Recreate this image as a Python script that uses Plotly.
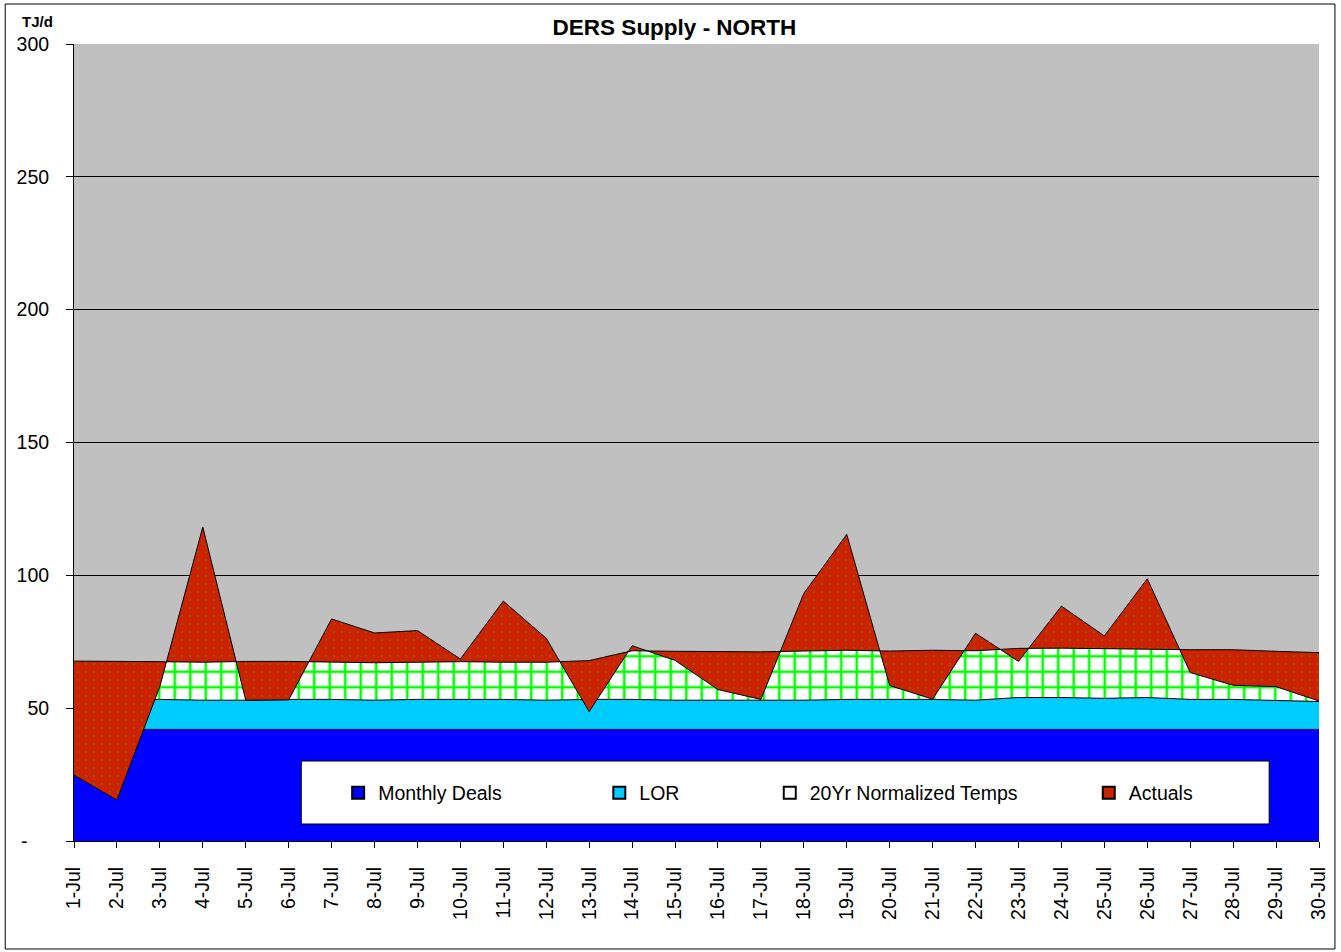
import numpy as np
import plotly.graph_objects as go

days = ["1-Jul", "2-Jul", "3-Jul", "4-Jul", "5-Jul", "6-Jul", "7-Jul", "8-Jul", "9-Jul", "10-Jul",
        "11-Jul", "12-Jul", "13-Jul", "14-Jul", "15-Jul", "16-Jul", "17-Jul", "18-Jul", "19-Jul", "20-Jul",
        "21-Jul", "22-Jul", "23-Jul", "24-Jul", "25-Jul", "26-Jul", "27-Jul", "28-Jul", "29-Jul", "30-Jul"]

monthly_deals = [42, 42, 42, 42, 42, 42, 42, 42, 42, 42, 42, 42, 42, 42, 42,
                 42, 42, 42, 42, 42, 42, 42, 42, 42, 42, 42, 42, 42, 42, 42]
lor = [11.0, 11.0, 11.3, 11.0, 11.0, 11.3, 11.3, 11.0, 11.3, 11.3, 11.3, 11.0, 11.3, 11.3, 11.0,
       11.0, 11.0, 11.0, 11.3, 11.3, 11.3, 11.0, 12.0, 12.0, 11.7, 12.0, 11.3, 11.3, 11.0, 10.5]
normalized_temps = [14.7, 14.7, 14.2, 14.3, 14.6, 14.3, 14.0, 14.1, 14.0, 14.2, 14.0, 14.3, 14.6, 18.3, 18.4,
                    18.2, 18.2, 18.5, 18.5, 18.2, 18.5, 18.6, 18.5, 18.6, 18.6, 18.2, 18.7, 18.7, 18.4, 18.4]
actuals = [24.8, 15.4, 58.2, 118.2, 53.0, 53.1, 83.6, 78.3, 79.2, 68.5, 90.3, 76.3, 48.7, 73.5, 68.0,
           57.0, 53.3, 93.2, 115.4, 58.5, 53.4, 78.2, 67.6, 88.4, 77.2, 98.7, 63.4, 58.6, 58.1, 52.7]

y_ticks = [0, 50, 100, 150, 200, 250, 300]
y_ticktext = ["-\u00a0\u00a0\u00a0\u00a0", "50", "100", "150", "200", "250", "300"]

BLUE = "#0000FF"
CYAN = "#00CCFF"
GREEN = "#00FF00"
RED = "#CC2200"
FONT = "Liberation Sans, Arial, sans-serif"

md = np.array(monthly_deals, dtype=float)
lor_top = md + np.array(lor)
norm_top = lor_top + np.array(normalized_temps)

fig = go.Figure()
fig.add_trace(go.Scatter(x=days, y=md, mode="lines", fill="tozeroy", fillcolor=BLUE,
                         line=dict(color="#000033", width=1), showlegend=False, hoverinfo="skip"))
fig.add_trace(go.Scatter(x=days, y=lor_top, mode="lines", fill="tonexty", fillcolor=CYAN,
                         line=dict(color="#000000", width=1), showlegend=False, hoverinfo="skip"))
fig.add_trace(go.Scatter(x=days, y=norm_top, mode="lines", fill="tonexty", fillcolor="white",
                         fillpattern=dict(shape="+", fgcolor=GREEN, bgcolor="white", size=15.5,
                                          solidity=0.3, fgopacity=1, fillmode="replace"),
                         line=dict(color="#000000", width=1), showlegend=False, hoverinfo="skip"))
fig.add_trace(go.Scatter(x=days, y=actuals, mode="lines", fill="tonexty", fillcolor=RED,
                         fillpattern=dict(shape=".", fgcolor="#8A5A00", bgcolor=RED, size=8,
                                          solidity=0.07, fgopacity=1, fillmode="replace"),
                         line=dict(color="#000000", width=1), showlegend=False, hoverinfo="skip"))

# legend entries
legend_items = [("Monthly Deals", BLUE, "legend"), ("LOR", CYAN, "legend2"),
                ("20Yr Normalized Temps", "white", "legend3"), ("Actuals", RED, "legend4")]
for name, col, lg in legend_items:
    fig.add_trace(go.Scatter(x=[None], y=[None], mode="markers", name=name, legend=lg,
                             marker=dict(symbol="square", size=12, color=col,
                                         line=dict(color="#000000", width=1))))

W, H = 1341, 952
L, R, T, B = 74, 18, 44, 111
pw, ph = W - L - R, H - T - B

def px(x):
    return (x - L) / pw

def py(y):
    return (H - B - y) / ph

legend_common = dict(orientation="h", yanchor="middle", xanchor="left", y=py(793),
                     bgcolor="rgba(0,0,0,0)", borderwidth=0,
                     font=dict(family=FONT, size=19.5, color="black"), itemsizing="constant")
legend_lefts = {"legend": 339, "legend2": 601, "legend3": 772, "legend4": 1092}

fig.update_layout(
    width=W, height=H,
    margin=dict(l=L, r=R, t=T, b=B, pad=0),
    paper_bgcolor="white", plot_bgcolor="#C0C0C0",
    font=dict(family=FONT, color="black"),
    title=dict(text="<b>DERS Supply - NORTH</b>", x=674.5 / W, xref="container", xanchor="center",
               y=1 - 27 / H, yref="container", yanchor="middle",
               font=dict(family=FONT, size=22.5, color="black")),
    xaxis=dict(type="category", range=[0, 29], tickangle=-90, ticks="outside", ticklen=6,
               tickcolor="black", showline=True, linecolor="black", linewidth=1, showgrid=False,
               tickfont=dict(family=FONT, size=19.5, color="black"), ticklabelstandoff=11),
    yaxis=dict(range=[0, 300], tickvals=y_ticks, ticktext=y_ticktext, ticks="outside", ticklen=7,
               tickcolor="black", showline=True, linecolor="black", linewidth=1,
               showgrid=True, gridcolor="black", gridwidth=1, zeroline=False,
               tickfont=dict(family=FONT, size=19.5, color="black"), ticklabelstandoff=13),
    showlegend=True,
    legend=dict(x=px(legend_lefts["legend"]), **legend_common),
    legend2=dict(x=px(legend_lefts["legend2"]), **legend_common),
    legend3=dict(x=px(legend_lefts["legend3"]), **legend_common),
    legend4=dict(x=px(legend_lefts["legend4"]), **legend_common),
    shapes=[
        dict(type="rect", xref="paper", yref="paper", x0=px(302), x1=px(1273), y0=py(824), y1=py(761),
             fillcolor="white", line=dict(color="black", width=1), layer="above"),
        dict(type="rect", xref="paper", yref="paper", x0=px(5), x1=px(1339), y0=py(949), y1=py(4),
             fillcolor="rgba(0,0,0,0)", line=dict(color="black", width=1), layer="above"),
    ],
    annotations=[
        dict(text="<b>TJ/d</b>", xref="paper", yref="paper", x=px(37), y=py(21.7),
             xanchor="center", yanchor="middle", showarrow=False,
             font=dict(family=FONT, size=15, color="black")),
    ],
)

fig.write_html("out.html", config={"displayModeBar": False},
               post_script="document.body.style.margin='0px';document.body.style.overflow='hidden';")
